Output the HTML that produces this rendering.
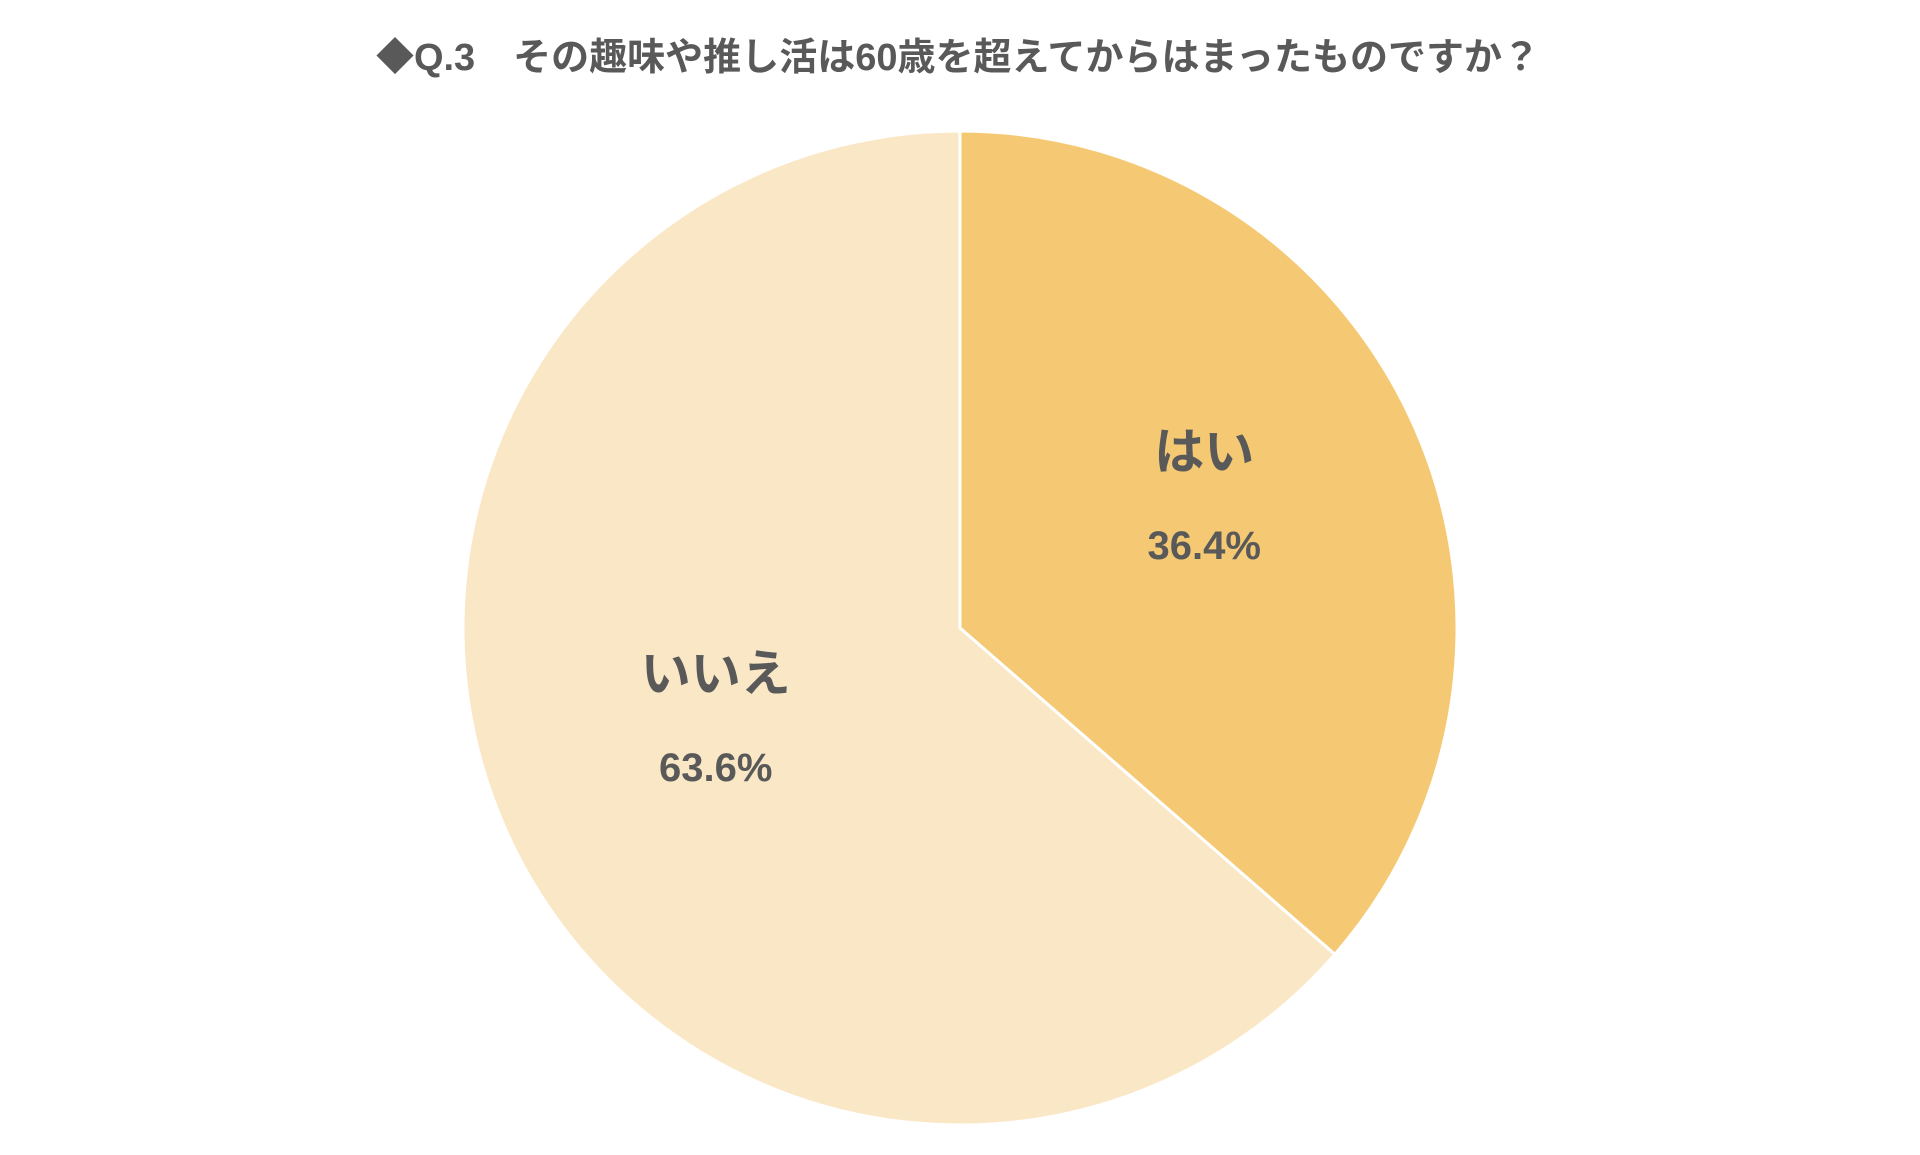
<!DOCTYPE html>
<html><head><meta charset="utf-8"><style>
html,body{margin:0;padding:0;background:#fff;}
body{width:1920px;height:1150px;overflow:hidden;font-family:"Liberation Sans","Noto Sans CJK JP",sans-serif;}
</style></head><body>
<svg width="1920" height="1150" xmlns="http://www.w3.org/2000/svg">
<text x="958" y="70" text-anchor="middle" font-size="38" font-weight="bold" fill="#595959" font-family="Liberation Sans, Noto Sans CJK JP, sans-serif">◆Q.3　その趣味や推し活は60歳を超えてからはまったものですか？</text>
<g id="slices"></g>
<g id="labels"></g>
</svg>
<script>
const categories = ["はい", "いいえ"];
const values = [36.4, 63.6];
const valueLabels = ["36.4%", "63.6%"];
const colors = ["#F5C973", "#FAE7C5"];
const cx = 960, cy = 628, r = 497;
const NS = "http://www.w3.org/2000/svg";
const total = values.reduce((a,b)=>a+b,0);
let start = 0;
const sg = document.getElementById('slices'), lg = document.getElementById('labels');
values.forEach((v,i)=>{
  const a0 = start/total*2*Math.PI, a1 = (start+v)/total*2*Math.PI;
  start += v;
  const x0 = cx + r*Math.sin(a0), y0 = cy - r*Math.cos(a0);
  const x1 = cx + r*Math.sin(a1), y1 = cy - r*Math.cos(a1);
  const large = (a1-a0) > Math.PI ? 1 : 0;
  const p = document.createElementNS(NS,'path');
  p.setAttribute('d',`M${cx},${cy} L${x0},${y0} A${r},${r} 0 ${large} 1 ${x1},${y1} Z`);
  p.setAttribute('fill',colors[i]);
  p.setAttribute('stroke','#fff');
  p.setAttribute('stroke-width','3');
  
  
  sg.appendChild(p);
  const am = (a0+a1)/2, lr = r*0.54;
  const lx = cx + lr*Math.sin(am), ly = cy - lr*Math.cos(am);
  const t1 = document.createElementNS(NS,'text');
  t1.setAttribute('x',lx); t1.setAttribute('y',ly-48);
  t1.setAttribute('text-anchor','middle'); t1.setAttribute('font-size','50');
  t1.setAttribute('font-weight','bold'); t1.setAttribute('fill','#595959');
  t1.textContent = categories[i];
  
  
  lg.appendChild(t1);
  const t2 = document.createElementNS(NS,'text');
  t2.setAttribute('x',lx); t2.setAttribute('y',ly+42);
  t2.setAttribute('text-anchor','middle'); t2.setAttribute('font-size','40');
  t2.setAttribute('font-weight','bold'); t2.setAttribute('fill','#595959');
  t2.textContent = valueLabels[i];
  
  
  lg.appendChild(t2);
});
</script>
</body></html>
